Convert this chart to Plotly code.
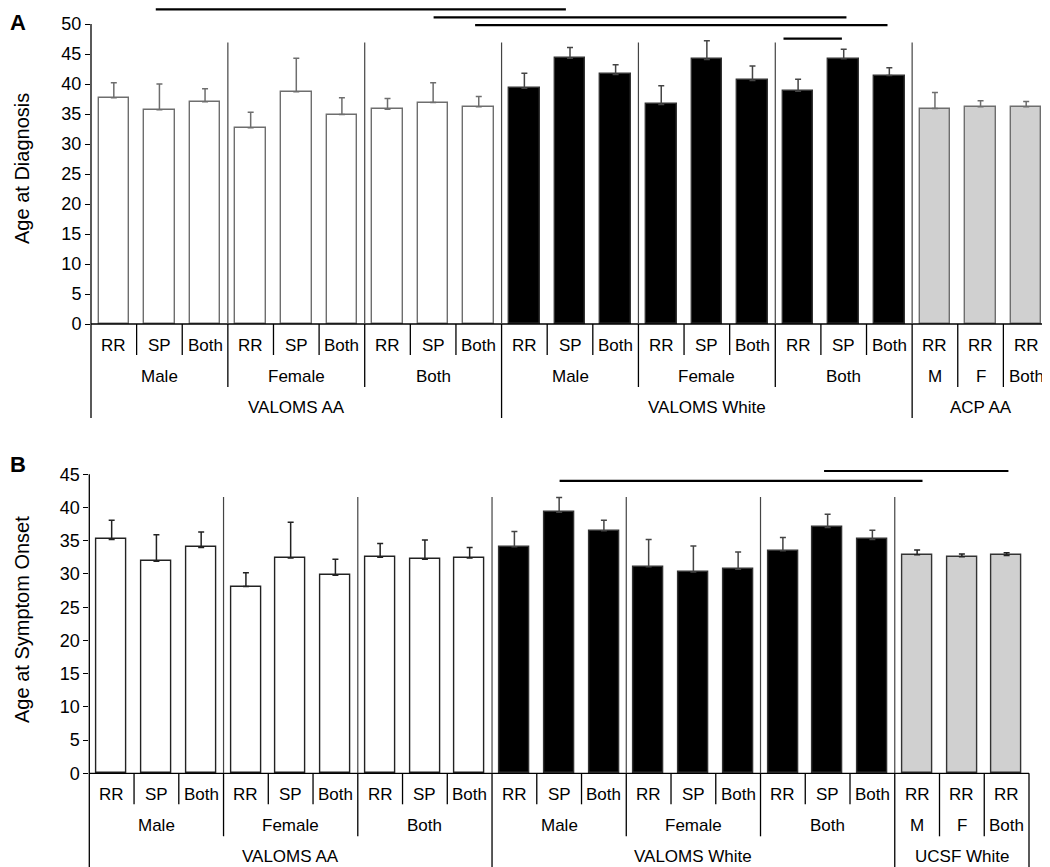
import plotly.graph_objects as go

# the page puts the figure 8 px in from the top-left corner (body margin),
# so the layout below is worked out in screen pixels and shifted by OFF
OFF = 8
W, H = 1042, 859

# ---- data -------------------------------------------------------------
sub_labels = ["RR", "SP", "Both"] * 6 + ["RR", "RR", "RR"]
sex_groups = [
    ("Male", 0, 2), ("Female", 3, 5), ("Both", 6, 8),
    ("Male", 9, 11), ("Female", 12, 14), ("Both", 15, 17),
    ("M", 18, 18), ("F", 19, 19), ("Both", 20, 20),
]
cohorts_a = [("VALOMS AA", 0, 8), ("VALOMS White", 9, 17), ("ACP AA", 18, 20)]
cohorts_b = [("VALOMS AA", 0, 8), ("VALOMS White", 9, 17), ("UCSF White", 18, 20)]

diag_mean = [37.7, 35.7, 37.05, 32.7, 38.7, 34.9, 35.8, 36.9, 36.2,
             39.3, 44.3, 41.6, 36.6, 44.1, 40.6, 38.8, 44.2, 41.4,
             35.9, 36.2, 36.2]
diag_sem = [2.5, 4.3, 2.15, 2.6, 5.6, 2.8, 1.8, 3.3, 1.7,
            2.5, 1.8, 1.6, 3.1, 3.1, 2.4, 2.0, 1.6, 1.3,
            2.7, 1.0, 0.9]

onset_mean = [35.2, 31.9, 34.0, 28.1, 32.4, 29.8, 32.5, 32.2, 32.4,
              34.1, 39.3, 36.5, 31.1, 30.3, 30.7, 33.5, 37.0, 35.2,
              32.9, 32.6, 32.8]
onset_sem = [2.9, 4.0, 2.3, 2.1, 5.4, 2.4, 2.1, 2.9, 1.6,
             2.3, 2.2, 1.6, 4.1, 3.9, 2.6, 2.0, 2.0, 1.4,
             0.7, 0.4, 0.4]

# significance bars: (start category, end category, height)
diag_sig = [(0.92, 9.91, 52.45), (7.01, 16.06, 51.1),
            (7.92, 16.96, 49.8), (14.68, 15.96, 47.55)]
onset_sig = [(10.01, 18.12, 44.0), (15.92, 20.04, 45.5)]

FONT = "Liberation Sans, Arial, sans-serif"


def px_x(p):
    return max(p - OFF, 0) / W


def px_y(p):
    return min(1 - (p - OFF) / H, 1)


fig = go.Figure()


def add_panel(fig, k, means, sems, cohorts, sig, ymax, ppu, zero_px, top_px,
              bottom_px, left_px, right_px, sep_top, ytitle, title_y, letter,
              letter_y, outline, err_white):
    xa = "x" if k == 1 else "x2"
    ya = "y" if k == 1 else "y2"
    lo = -(bottom_px - zero_px) / ppu
    hi = (zero_px - top_px) / ppu

    groups = [
        (range(0, 9), "white", outline, err_white),
        (range(9, 18), "black", "#333333", "#444444"),
        (range(18, 21), "#d0d0d0", "#6e6e6e" if k == 1 else "#333333", err_white),
    ]
    for idx, fill, line_c, err_c in groups:
        idx = list(idx)
        fig.add_trace(go.Bar(
            x=idx, y=[means[i] for i in idx], xaxis=xa, yaxis=ya,
            width=0.67, marker=dict(color=fill, line=dict(color=line_c, width=1.4)),
            error_y=dict(type="data", array=[sems[i] for i in idx],
                         arrayminus=[0] * len(idx), symmetric=False,
                         color=err_c, thickness=1.5, width=3),
            showlegend=False, hoverinfo="skip",
        ))

    ax_key = "xaxis" if k == 1 else "xaxis2"
    ay_key = "yaxis" if k == 1 else "yaxis2"
    fig.update_layout(**{
        ax_key: dict(domain=[px_x(left_px), px_x(right_px)], range=[-0.5, 20.5],
                     showticklabels=False, showgrid=False, zeroline=False,
                     showline=False, ticks="", anchor=ya),
        ay_key: dict(domain=[px_y(bottom_px), px_y(top_px)], range=[lo, hi],
                     tickvals=list(range(0, ymax + 1, 5)), ticks="outside",
                     ticklen=5, tickcolor="black", tickwidth=1.3,
                     showgrid=False, zeroline=False, showline=False,
                     tickfont=dict(family=FONT, size=18, color="black"),
                     anchor=xa),
    })

    def seg(x0, x1, y0, y1, color="black", width=1.3, xref=xa):
        fig.add_shape(type="line", xref=xref, yref=ya, x0=x0, x1=x1,
                      y0=y0, y1=y1, line=dict(color=color, width=width))

    # axis lines
    seg(-0.5, 20.5, 0, 0)
    d3 = -94 / ppu
    seg(0, 0, d3, ymax, xref=xa + " domain")
    seg(1, 1, d3, 0, xref=xa + " domain")

    # separators inside plot area
    for b in [2.5, 5.5, 8.5, 11.5, 14.5, 17.5]:
        seg(b, b, 0, sep_top, color="#444444", width=1.2)

    # separators in the label area
    d1, d2 = -31 / ppu, -63 / ppu
    for name, a, b in sex_groups:
        for i in range(a, b):
            seg(i + 0.5, i + 0.5, 0, d1)
    for name, a, b in sex_groups[:-1]:
        if b not in (8, 17):
            seg(b + 0.5, b + 0.5, 0, d2)
    for b in (8.5, 17.5):
        seg(b, b, 0, d3)

    tf = dict(family=FONT, size=17, color="black")
    for i, t in enumerate(sub_labels):
        fig.add_annotation(x=i, y=-21.5 / ppu, xref=xa, yref=ya, text=t,
                           showarrow=False, font=tf)
    for name, a, b in sex_groups:
        fig.add_annotation(x=(a + b) / 2, y=-52.5 / ppu, xref=xa, yref=ya,
                           text=name, showarrow=False, font=tf)
    for name, a, b in cohorts:
        fig.add_annotation(x=(a + b) / 2, y=-83.5 / ppu, xref=xa, yref=ya,
                           text=name, showarrow=False, font=tf)

    # significance bars
    for x0, x1, h in sig:
        seg(x0, x1, h, h, width=2.2)

    fig.add_annotation(x=px_x(22), y=px_y(title_y), xref="paper", yref="paper",
                       xanchor="center", yanchor="middle",
                       text=ytitle, textangle=-90, showarrow=False,
                       font=dict(family=FONT, size=20, color="black"))
    fig.add_annotation(x=0, y=px_y(letter_y), xref="paper", yref="paper",
                       xanchor="left", yanchor="top",
                       text="<b>%s</b>" % letter, showarrow=False,
                       font=dict(family=FONT, size=22, color="black"))


add_panel(fig, 1, diag_mean, diag_sem, cohorts_a, diag_sig, 50, 6.0, 324, 8, 424,
          91, 1049, 46.9, "Age at Diagnosis", 169, "A", 8, "#6e6e6e", "#6e6e6e")
add_panel(fig, 2, onset_mean, onset_sem, cohorts_b, onset_sig, 45, 6.644, 773.3,
          462, 867, 89.3, 1029, 41.6, "Age at Symptom Onset", 620, "B", 450,
          "#222222", "#222222")

fig.update_layout(
    width=W, height=H, margin=dict(l=0, r=0, t=0, b=0),
    plot_bgcolor="white", paper_bgcolor="white", bargap=0,
)

fig.write_html("out.html")
